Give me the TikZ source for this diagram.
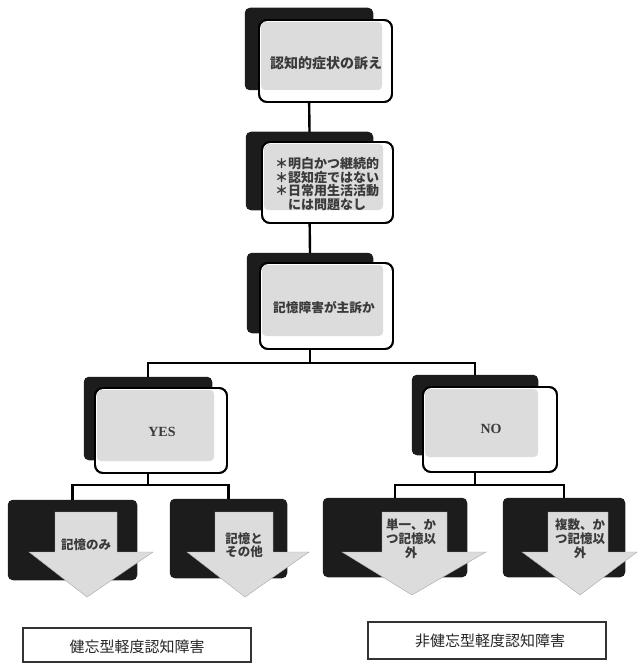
\documentclass[tikz,border=0pt]{standalone}
\usepackage{fontspec}
\setmainfont{Liberation Serif}
\newfontfamily\jp{Noto Sans CJK JP}
\usetikzlibrary{fit}
\definecolor{darkc}{HTML}{1C1C1C}
\definecolor{grayc}{HTML}{DCDCDC}
\definecolor{txtc}{HTML}{3A3A3A}
\begin{document}
\begin{tikzpicture}[x=1pt,y=-1pt,
  darkbox/.style={fill=darkc,draw=darkc,rounded corners=5pt,inner sep=0pt},
  frontbox/.style={fill=white,draw=black,line width=1.8pt,rounded corners=8pt,inner sep=0pt},
  frontline/.style={draw=black,line width=1.8pt,rounded corners=8pt,inner sep=0pt},
  conn/.style={draw=black,line width=2.4pt},
  cardtext/.style={font=\jp\bfseries\fontsize{13}{14}\selectfont,text=txtc,align=center,inner sep=0pt},
  arrowfill/.style={fill=grayc,draw=gray!70,line width=0.4pt},
  labelbox/.style={draw=black!80,line width=1.2pt,fill=white,inner sep=0pt},
  labeltext/.style={font=\jp\fontsize{15}{16}\selectfont,text=black!85,inner sep=0pt}
]
\useasboundingbox (0,0) rectangle (639,663);
\fill[white] (0,0) rectangle (639,663);

% ---- dark back boxes (nodes for connectors) ----
\node[darkbox,fit={(245,8) (373,90)}] (d1) {};
\node[darkbox,fit={(246,132) (373,210)}] (d2) {};
\node[darkbox,fit={(247,253) (373,333)}] (d3) {};
\node[darkbox,fit={(84,377) (212,460)}] (dy) {};
\node[darkbox,fit={(412,375) (538,455)}] (dn) {};
\node[darkbox,fit={(8,500) (137,580)}] (a1) {};
\node[darkbox,fit={(170,499) (287,578)}] (a2) {};
\node[darkbox,fit={(323,498) (467,577)}] (a3) {};
\node[darkbox,fit={(503,498) (625,577)}] (a4) {};

% ---- connectors ----
\coordinate (j1) at (310,363);
\coordinate (j2) at (148,485);
\coordinate (j3) at (475,485);
\draw[conn] (d1.south) -- (d2.north);
\draw[conn] (d2.south) -- (d3.north);
\draw[conn] (d3.south) -- (j1);
\draw[conn] (dy.north) |- (j1) -| (dn.north);
\draw[conn] (dy.south) -- (j2);
\draw[conn] (a1.north) |- (j2) -| (a2.north);
\draw[conn] (dn.south) -- (j3);
\draw[conn] (a3.north) |- (j3) -| (a4.north);

% redraw dark boxes over connector ends
\foreach \a/\b/\c/\d in {245/8/373/90, 246/132/373/210, 247/253/373/333,
  84/377/212/460, 412/375/538/455, 8/500/137/580, 170/499/287/578,
  323/498/467/577, 503/498/625/577}
  \fill[darkc,rounded corners=5pt] (\a,\b) rectangle (\c,\d);

% ---- front cards ----
\node[frontbox,fit={(259,20) (392,102)}] (f1) {};
\fill[grayc,rounded corners=4pt] (261,22) rectangle (382,90);
\node[frontline,fit={(259,20) (392,102)}] {};
\node[cardtext,font=\jp\bfseries\fontsize{14}{15}\selectfont] (t1) at (326,63) {認知的症状の訴え};

\node[frontbox,fit={(262,142) (393,223)}] (f2) {};
\fill[grayc,rounded corners=4pt] (264,144) rectangle (383,210);
\node[frontline,fit={(262,142) (393,223)}] {};
\node[cardtext,font=\jp\bfseries\fontsize{13}{13.8}\selectfont] (t2) at (327,184) {＊明白かつ継続的\\＊認知症ではない\\＊日常用生活活動\\には問題なし};

\node[frontbox,fit={(260,263) (393,349)}] (f3) {};
\fill[grayc,rounded corners=4pt] (262,265) rectangle (383,336);
\node[frontline,fit={(260,263) (393,349)}] {};
\node[cardtext,font=\jp\bfseries\fontsize{12.7}{14}\selectfont] (t3) at (324,308) {記憶障害が主訴か};

\node[frontbox,fit={(95,388) (227,473)}] (fy) {};
\fill[grayc,rounded corners=4pt] (97,390) rectangle (214,461);
\node[frontline,fit={(95,388) (227,473)}] {};
\node[cardtext,font=\bfseries\fontsize{14}{15}\selectfont] (ty) at (162,432) {YES};

\node[frontbox,fit={(423,387) (557,472)}] (fn) {};
\fill[grayc,rounded corners=4pt] (425,389) rectangle (538,457);
\node[frontline,fit={(423,387) (557,472)}] {};
\node[cardtext,font=\bfseries\fontsize{14}{15}\selectfont] (tn) at (491,429) {NO};

% ---- arrows ----
\path[arrowfill] (55,512) -- (117,512) -- (117,552) -- (153,552) -- (87,597) -- (29,552) -- (55,552) -- cycle;
\path[arrowfill] (215,512) -- (273,512) -- (273,552) -- (309,552) -- (245,597) -- (187,552) -- (215,552) -- cycle;
\path[arrowfill] (382,512) -- (447,512) -- (447,552) -- (486,552) -- (412,595) -- (342,552) -- (382,552) -- cycle;
\path[arrowfill] (548,512) -- (608,512) -- (608,552) -- (637,552) -- (580,595) -- (522,552) -- (548,552) -- cycle;

\node[cardtext,font=\jp\bfseries\fontsize{12.5}{13.5}\selectfont] (ta1) at (86,545) {記憶のみ};
\node[cardtext,font=\jp\bfseries\fontsize{12.5}{13.5}\selectfont] (ta2) at (244,545) {記憶と\\その他};
\node[cardtext,font=\jp\bfseries\fontsize{12.5}{14}\selectfont] (ta3) at (411,539) {単一、か\\つ記憶以\\外};
\node[cardtext,font=\jp\bfseries\fontsize{12.5}{14}\selectfont] (ta4) at (580,539) {複数、か\\つ記憶以\\外};

% ---- bottom labels ----
\node[labelbox,fit={(23,628) (251,662)}] (l1) {};
\node[labeltext] (lt1) at (137,647) {健忘型軽度認知障害};
\node[labelbox,fit={(368,622) (606,659)}] (l2) {};
\node[labeltext] (lt2) at (490,641) {非健忘型軽度認知障害};
\end{tikzpicture}
\end{document}
